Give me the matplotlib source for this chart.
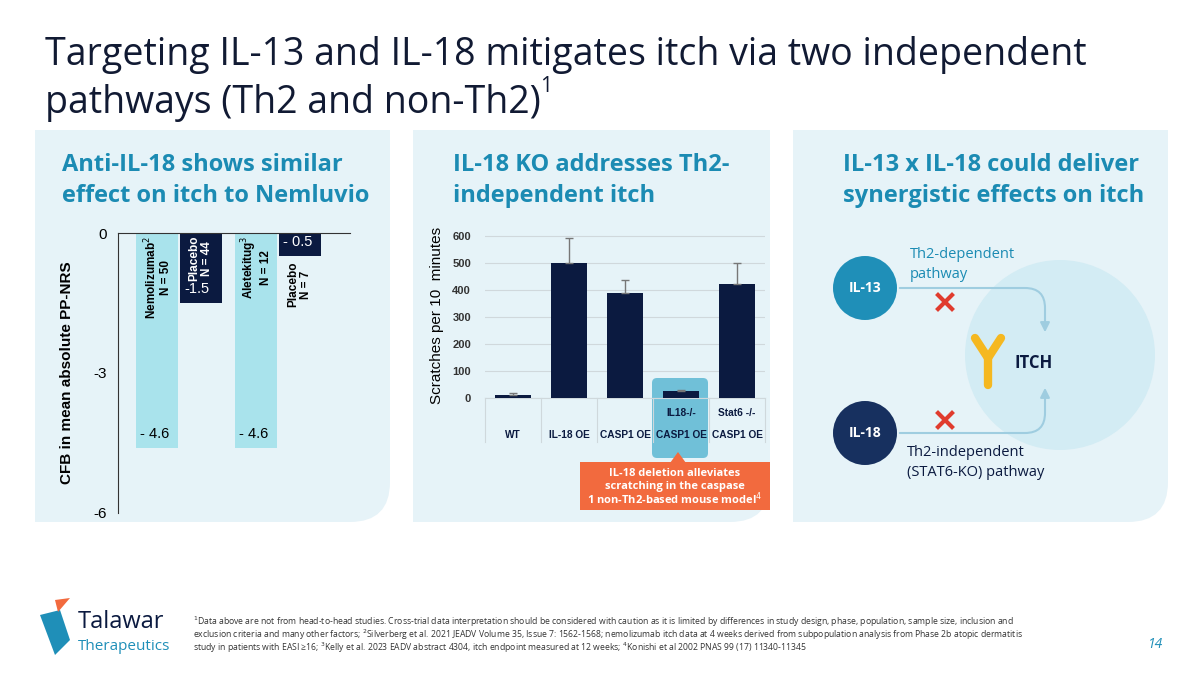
import matplotlib
matplotlib.use("Agg")
import matplotlib.pyplot as plt
from matplotlib.patches import FancyBboxPatch, Rectangle, Circle, Polygon, FancyArrowPatch
import numpy as np

plt.rcParams['font.family'] = ['Open Sans', 'DejaVu Sans']

# Left chart data
left_names = ["Nemolizumab$^2$\nN = 50", "Placebo\nN = 44", "Aletekitug$^3$\nN = 12", "Placebo\nN = 7"]
left_values = [-4.6, -1.5, -4.6, -0.5]
left_labels = ["- 4.6", "-1.5", "- 4.6", "- 0.5"]
left_ticks = [0, -3, -6]

# Middle chart data
mid_top = ["", "", "", "IL18-/-", "Stat6 -/-"]
mid_bottom = ["WT", "IL-18 OE", "CASP1 OE", "CASP1 OE", "CASP1 OE"]
mid_values = [10, 500, 388, 25, 420]
mid_err = [8, 90, 47, 3, 80]
mid_ticks = [0, 100, 200, 300, 400, 500, 600]

W, H = 1200, 675
fig = plt.figure(figsize=(12, 6.75), dpi=100)
bg = fig.add_axes([0, 0, 1, 1])
bg.set_xlim(0, W); bg.set_ylim(H, 0); bg.axis('off')

def px(l, t, r, b):
    return [l / W, 1 - b / H, (r - l) / W, (b - t) / H]

navy = "#0b1a40"
teal = "#1b8bb3"
light = "#a9e3ec"
ARIAL = ['Liberation Sans', 'DejaVu Sans']

bg.text(45, 55, "Targeting IL-13 and IL-18 mitigates itch via two independent", fontsize=27, color="#111a33", va='center')
bg.text(45, 103, "pathways (Th2 and non-Th2)", fontsize=27, color="#111a33", va='center')
bg.text(540, 86, "1", fontsize=15, color="#111a33", va='center')

for l, r in [(35, 390), (413, 770), (793, 1168)]:
    bg.add_patch(FancyBboxPatch((l, 130), r - l, 392, boxstyle="round,pad=0,rounding_size=40",
                                fc="#e6f3f8", ec="none", zorder=0))
    bg.add_patch(Rectangle((l, 130), 40, 40, fc="#e6f3f8", ec="none", zorder=0))
    bg.add_patch(Rectangle((l, 480), 40, 42, fc="#e6f3f8", ec="none", zorder=0))
    bg.add_patch(Rectangle((r - 40, 130), 40, 40, fc="#e6f3f8", ec="none", zorder=0))

hdr = dict(fontsize=17, color=teal, fontweight='bold', va='center')
bg.text(62, 165, "Anti-IL-18 shows similar", **hdr)
bg.text(62, 196, "effect on itch to Nemluvio", **hdr)
bg.text(453, 165, "IL-18 KO addresses Th2-", **hdr)
bg.text(453, 196, "independent itch", **hdr)
bg.text(843, 165, "IL-13 x IL-18 could deliver", **hdr)
bg.text(843, 196, "synergistic effects on itch", **hdr)

# ---- Left chart
ax = fig.add_axes(px(118, 233, 350, 513))
ax.set_facecolor('none')
pos = [0, 1, 2.25, 3.25]
cols = [light, navy, light, navy]
ax.bar(pos, left_values, width=0.97, color=cols)
ax.set_xlim(-0.89, 4.39); ax.set_ylim(-6, 0)
ax.set_yticks(left_ticks); ax.set_yticklabels([str(t) for t in left_ticks], fontsize=11, family=ARIAL)
ax.set_xticks([])
for s in ['right', 'bottom']: ax.spines[s].set_visible(False)
ax.spines['left'].set_color('#333'); ax.spines['top'].set_color('#333')
ax.tick_params(axis='y', length=0, pad=8)
ax.set_ylabel("CFB in mean absolute PP-NRS", fontsize=11, fontweight='bold', labelpad=14, family=ARIAL)
for i, (p, v) in enumerate(zip(pos, left_values)):
    tc = 'white' if cols[i] == navy else 'black'
    if i == 3:
        ax.text(p, -0.62, left_names[i], rotation=90, fontsize=8.5, fontweight='bold', ha='center', va='top',
                color='black', family=ARIAL, linespacing=1.1)
    else:
        ax.text(p, -0.06, left_names[i], rotation=90, fontsize=8.5, fontweight='bold', ha='center', va='top',
                color=tc, family=ARIAL, linespacing=1.1)
    ly = v + 0.3 if i != 3 else -0.2
    ax.text(p - 0.38, ly, left_labels[i], fontsize=10.5, color=tc, ha='left', va='center', family=ARIAL)

# ---- Middle chart
bg.add_patch(FancyBboxPatch((652, 378), 56, 80, boxstyle="round,pad=0,rounding_size=5",
                            fc="#5bb8d3", ec="none", alpha=0.85, zorder=1))
am = fig.add_axes(px(485, 233, 765, 398))
am.set_facecolor('none')
x = np.arange(len(mid_values))
am.bar(x, mid_values, width=0.63, color=navy, zorder=3)
am.errorbar(x, mid_values, yerr=[np.zeros(5), mid_err], fmt='none', ecolor='#777', capsize=3, lw=1, zorder=4)
am.set_xlim(-0.5, 4.5); am.set_ylim(0, 610)
am.set_yticks(mid_ticks); am.set_yticklabels([str(t) for t in mid_ticks], fontsize=8, fontweight='bold', color='#333', family=ARIAL)
am.grid(axis='y', color='#d0d8dc', lw=0.8, zorder=0)
for s in am.spines.values(): s.set_visible(False)
am.tick_params(length=0, pad=10)
am.set_xticks([])
am.set_ylabel("Scratches per 10  minutes", fontsize=11, labelpad=6, family=ARIAL)
for i in range(5):
    xc = 485 + 56 * (i + 0.5)
    if mid_top[i]:
        bg.text(xc, 413, mid_top[i], fontsize=7.3, fontweight='bold', ha='center', va='center', color=navy, family=ARIAL)
    bg.text(xc, 435, mid_bottom[i], fontsize=7.3, fontweight='bold', ha='center', va='center', color=navy, family=ARIAL)
for i in range(6):
    xs = 485 + 56 * i
    bg.plot([xs, xs], [398, 442], color='#cfd8dc', lw=0.8)
bg.plot([485, 765], [398, 398], color='#cfd8dc', lw=0.8)
bg.add_patch(Rectangle((580, 462), 190, 48, fc="#f26a3e", ec="none", zorder=2))
bg.add_patch(Polygon([[670, 463], [686, 463], [678, 452]], fc="#f26a3e", ec="none", zorder=2))
for yy, t in [(474, "IL-18 deletion alleviates"), (486, "scratching in the caspase"), (499, "1 non-Th2-based mouse model$^4$")]:
    bg.text(675, yy, t, fontsize=8, fontweight='bold', color='white', ha='center', va='center', zorder=3)

# ---- Right diagram
bg.add_patch(Circle((1060, 355), 95, fc="#d3ecf4", ec="none", zorder=1))
bg.add_patch(Circle((865, 288), 32, fc="#1f8fb8", ec="none", zorder=3))
bg.add_patch(Circle((865, 433), 32, fc="#17305f", ec="none", zorder=3))
bg.text(865, 288, "IL-13", color='white', fontsize=10, fontweight='bold', ha='center', va='center', zorder=4)
bg.text(865, 433, "IL-18", color='white', fontsize=10, fontweight='bold', ha='center', va='center', zorder=4)
bg.add_patch(FancyArrowPatch((897, 288), (1045, 335), connectionstyle="angle,angleA=0,angleB=90,rad=20",
                             arrowstyle='-|>', mutation_scale=14, color='#9fcde0', lw=1.5, zorder=2))
bg.add_patch(FancyArrowPatch((897, 433), (1045, 385), connectionstyle="angle,angleA=0,angleB=-90,rad=20",
                             arrowstyle='-|>', mutation_scale=14, color='#9fcde0', lw=1.5, zorder=2))
for xc, yc in [(945, 302), (945, 420)]:
    bg.plot([xc - 7, xc + 7], [yc - 7, yc + 7], color='#e03b2e', lw=3, zorder=5)
    bg.plot([xc - 7, xc + 7], [yc + 7, yc - 7], color='#e03b2e', lw=3, zorder=5)
bg.plot([975, 988, 1001], [338, 358, 338], color='#f5b820', lw=6, solid_capstyle='round', zorder=5)
bg.plot([988, 988], [358, 385], color='#f5b820', lw=6, solid_capstyle='round', zorder=5)
bg.text(910, 255, "Th2-dependent", color=teal, fontsize=10.5, va='center')
bg.text(910, 274, "pathway", color=teal, fontsize=10.5, va='center')
bg.text(1015, 363, "ITCH", color=navy, fontsize=12, fontweight='bold', va='center', zorder=6)
bg.text(907, 453, "Th2-independent", color=navy, fontsize=10.5, va='center')
bg.text(907, 472, "(STAT6-KO) pathway", color=navy, fontsize=10.5, va='center')

# ---- Footer
bg.add_patch(Polygon([[40, 615], [60, 610], [70, 640], [55, 655]], fc="#1f8fb8", ec="none"))
bg.add_patch(Polygon([[55, 600], [70, 598], [58, 612]], fc="#f26a3e", ec="none"))
bg.text(78, 622, "Talawar", fontsize=17, color=navy, va='center')
bg.text(78, 646, "Therapeutics", fontsize=11, color="#1f8fb8", va='center')
fn = dict(fontsize=6.2, color='#333', va='center')
bg.text(193, 622, "$^1$Data above are not from head-to-head studies. Cross-trial data interpretation should be considered with caution as it is limited by differences in study design, phase, population, sample size, inclusion and", **fn)
bg.text(193, 635, "exclusion criteria and many other factors; $^2$Silverberg et al. 2021 JEADV Volume 35, Issue 7: 1562-1568; nemolizumab itch data at 4 weeks derived from subpopulation analysis from Phase 2b atopic dermatitis", **fn)
bg.text(193, 648, "study in patients with EASI ≥16; $^3$Kelly et al. 2023 EADV abstract 4304, itch endpoint measured at 12 weeks; $^4$Konishi et al 2002 PNAS 99 (17) 11340-11345", **fn)
bg.text(1163, 645, "14", fontsize=10, color='#1f8fb8', style='italic', ha='right', va='center')

fig.savefig("out.png", dpi=100)
